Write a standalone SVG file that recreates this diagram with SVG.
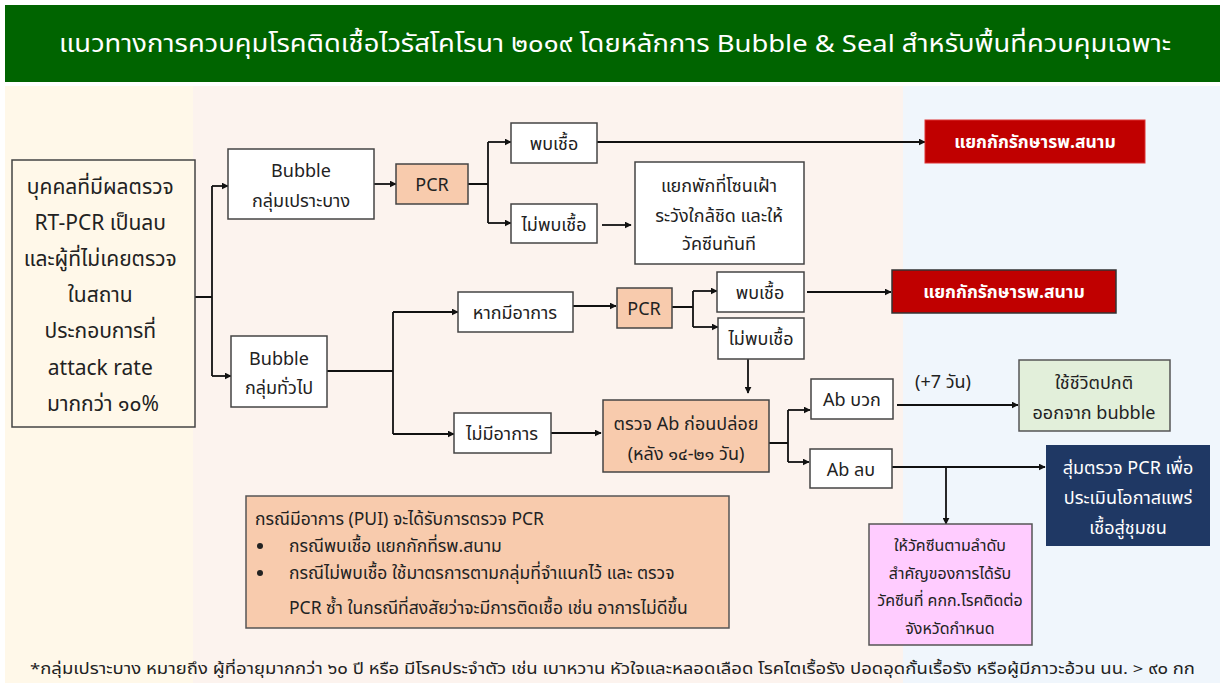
<svg xmlns="http://www.w3.org/2000/svg" width="1220" height="683" viewBox="0 0 1220 683">
<defs>
<marker id="ah" viewBox="0 0 10 10" refX="9" refY="5" markerWidth="7" markerHeight="7" markerUnits="userSpaceOnUse" orient="auto"><path d="M0,0 L10,5 L0,10 z" fill="#111"/></marker>
<style>
text{font-family:"Noto Sans Thai","Noto Sans","DejaVu Sans",sans-serif;fill:#222;text-anchor:middle}
.b{fill:#fff;stroke:#444;stroke-width:1.5}
.p{fill:#F8CBAD;stroke:#444;stroke-width:1.5}
.t{font-size:18px}
.w{fill:#fff;font-weight:bold;font-size:17.5px}
.c{fill:none;stroke:#111;stroke-width:1.8}
</style>
</defs>
<rect x="0" y="0" width="1220" height="683" fill="#fff"/>
<rect x="5" y="86" width="188" height="597" fill="#FFF8E9"/>
<rect x="193" y="86" width="710" height="597" fill="#FCF3EE"/>
<rect x="903" y="86" width="317" height="597" fill="#F0F6FC"/>
<g id="title">
<rect x="5" y="5" width="1215" height="77" fill="#006400"/>
<text x="615" y="52" style="fill:#fff;font-size:24px" textLength="1112" lengthAdjust="spacingAndGlyphs">แนวทางการควบคุมโรคติดเชื้อไวรัสโคโรนา ๒๐๑๙ โดยหลักการ Bubble &amp; Seal สำหรับพื้นที่ควบคุมเฉพาะ</text>
</g>
<g id="connectors">
<path class="c" d="M195,297 H212 M212,186 V376"/>
<path class="c" marker-end="url(#ah)" d="M212,186 H228"/>
<path class="c" marker-end="url(#ah)" d="M212,376 H231"/>
<path class="c" marker-end="url(#ah)" d="M374,184 H396"/>
<path class="c" d="M468,184 H488 M488,142 V223"/>
<path class="c" marker-end="url(#ah)" d="M488,142 H511"/>
<path class="c" marker-end="url(#ah)" d="M488,223 H511"/>
<path class="c" marker-end="url(#ah)" d="M597,142 H925"/>
<path class="c" marker-end="url(#ah)" d="M602,225 H631"/>
<path class="c" d="M327,371 H393 M393,312 V434"/>
<path class="c" marker-end="url(#ah)" d="M393,312 H458"/>
<path class="c" marker-end="url(#ah)" d="M393,434 H454"/>
<path class="c" marker-end="url(#ah)" d="M573,306 H616"/>
<path class="c" d="M672,307 H693 M693,291 V327"/>
<path class="c" marker-end="url(#ah)" d="M693,291 H717"/>
<path class="c" marker-end="url(#ah)" d="M693,327 H718"/>
<path class="c" marker-end="url(#ah)" d="M807,292 H891"/>
<path class="c" marker-end="url(#ah)" d="M748,359 V393"/>
<path class="c" marker-end="url(#ah)" d="M551,433 H601"/>
<path class="c" d="M769,443 H788 M788,410 V462"/>
<path class="c" marker-end="url(#ah)" d="M788,410 H810"/>
<path class="c" marker-end="url(#ah)" d="M788,462 H809"/>
<path class="c" marker-end="url(#ah)" d="M897,405 H1018"/>
<path class="c" marker-end="url(#ah)" d="M892,467 H1045"/>
<path class="c" marker-end="url(#ah)" d="M946,467 V524"/>
</g>
<g id="n_start">
<rect x="12" y="160" width="183" height="267" fill="#FFF8E9" stroke="#444" stroke-width="1.5"/>
<text style="font-size:21px">
<tspan x="103" y="194">บุคคลที่มีผลตรวจ</tspan>
<tspan x="103" y="230">RT-PCR เป็นลบ</tspan>
<tspan x="103" y="266">และผู้ที่ไม่เคยตรวจ</tspan>
<tspan x="103" y="302">ในสถาน</tspan>
<tspan x="103" y="338">ประกอบการที่</tspan>
<tspan x="103" y="375">attack rate</tspan>
<tspan x="103" y="411">มากกว่า ๑๐%</tspan>
</text>
</g>
<g id="n_bubble1">
<rect class="b" x="228" y="149" width="146" height="70"/>
<text class="t"><tspan x="301" y="177">Bubble</tspan><tspan x="301" y="207">กลุ่มเปราะบาง</tspan></text>
</g>
<g id="n_bubble2">
<rect class="b" x="231" y="336" width="96" height="71"/>
<text class="t"><tspan x="279" y="365">Bubble</tspan><tspan x="279" y="394">กลุ่มทั่วไป</tspan></text>
</g>
<g id="n_pcr1">
<rect class="p" x="396" y="164" width="72" height="40"/>
<text class="t" x="432" y="191">PCR</text>
</g>
<g id="n_found1">
<rect class="b" x="511" y="123" width="86" height="40"/>
<text class="t" x="554" y="150">พบเชื้อ</text>
</g>
<g id="n_notfound1">
<rect class="b" x="511" y="204" width="86" height="39"/>
<text class="t" x="554" y="231">ไม่พบเชื้อ</text>
</g>
<g id="n_quarantine">
<rect class="b" x="635" y="162" width="169" height="102"/>
<text class="t"><tspan x="719" y="192">แยกพักที่โซนเฝ้า</tspan><tspan x="719" y="222">ระวังใกล้ชิด และให้</tspan><tspan x="719" y="250">วัคซีนทันที</tspan></text>
</g>
<g id="n_hosp1">
<rect x="925" y="120" width="220" height="43" fill="#C00000" stroke="#d33" stroke-width="1"/>
<text class="w" x="1035" y="148">แยกกักรักษารพ.สนาม</text>
</g>
<g id="n_symp">
<rect class="b" x="458" y="292" width="115" height="40"/>
<text class="t" x="515" y="319">หากมีอาการ</text>
</g>
<g id="n_nosymp">
<rect class="b" x="454" y="413" width="97" height="40"/>
<text class="t" x="502" y="440">ไม่มีอาการ</text>
</g>
<g id="n_pcr2">
<rect class="p" x="617" y="288" width="55" height="40"/>
<text class="t" x="644" y="315">PCR</text>
</g>
<g id="n_found2">
<rect class="b" x="717" y="272" width="87" height="40"/>
<text class="t" x="760" y="299">พบเชื้อ</text>
</g>
<g id="n_notfound2">
<rect class="b" x="718" y="318" width="86" height="41"/>
<text class="t" x="761" y="345">ไม่พบเชื้อ</text>
</g>
<g id="n_hosp2">
<rect x="892" y="270" width="224" height="43" fill="#C00000" stroke="#333" stroke-width="1.5"/>
<text class="w" x="1004" y="298">แยกกักรักษารพ.สนาม</text>
</g>
<g id="n_abtest">
<rect class="p" x="603" y="400" width="166" height="72"/>
<text class="t"><tspan x="686" y="430">ตรวจ Ab ก่อนปล่อย</tspan><tspan x="686" y="460">(หลัง ๑๔-๒๑ วัน)</tspan></text>
</g>
<g id="n_abpos">
<rect class="b" x="811" y="379" width="82" height="40"/>
<text class="t" x="852" y="406">Ab บวก</text>
</g>
<g id="n_abneg">
<rect class="b" x="810" y="449" width="82" height="39"/>
<text class="t" x="851" y="476">Ab ลบ</text>
</g>
<text class="t" x="943" y="388">(+7 วัน)</text>
<g id="n_normal">
<rect x="1019" y="360" width="151" height="71" fill="#E2EFDA" stroke="#555" stroke-width="1.5"/>
<text class="t"><tspan x="1094" y="389">ใช้ชีวิตปกติ</tspan><tspan x="1094" y="419">ออกจาก bubble</tspan></text>
</g>
<g id="n_random">
<rect x="1046" y="445" width="164" height="101" fill="#1F3864"/>
<text class="t" style="fill:#fff"><tspan x="1128" y="474">สุ่มตรวจ PCR เพื่อ</tspan><tspan x="1128" y="504">ประเมินโอกาสแพร่</tspan><tspan x="1128" y="534">เชื้อสู่ชุมชน</tspan></text>
</g>
<g id="n_vaccine">
<rect x="869" y="524" width="163" height="121" fill="#FFCCFF" stroke="#555" stroke-width="1.5"/>
<text style="font-size:16px"><tspan x="950" y="551">ให้วัคซีนตามลำดับ</tspan><tspan x="950" y="579">สำคัญของการได้รับ</tspan><tspan x="950" y="606">วัคซีนที่ คกก.โรคติดต่อ</tspan><tspan x="950" y="634">จังหวัดกำหนด</tspan></text>
</g>
<g id="n_note">
<rect x="246" y="496" width="483" height="132" fill="#F8CBAD" stroke="#555" stroke-width="1.5"/>
<text style="font-size:17.5px;text-anchor:start">
<tspan x="255" y="525">กรณีมีอาการ (PUI) จะได้รับการตรวจ PCR</tspan>
<tspan x="289" y="552">กรณีพบเชื้อ แยกกักที่รพ.สนาม</tspan>
<tspan x="289" y="579">กรณีไม่พบเชื้อ ใช้มาตรการตามกลุ่มที่จำแนกไว้ และ ตรวจ</tspan>
<tspan x="289" y="614">PCR ซ้ำ ในกรณีที่สงสัยว่าจะมีการติดเชื้อ เช่น อาการไม่ดีขึ้น</tspan>
</text>
<circle cx="260" cy="546" r="3" fill="#222"/>
<circle cx="260" cy="573" r="3" fill="#222"/>
</g>
<text x="30" y="674" style="font-size:15px;text-anchor:start" textLength="1165" lengthAdjust="spacingAndGlyphs">*กลุ่มเปราะบาง หมายถึง ผู้ที่อายุมากกว่า ๖๐ ปี หรือ มีโรคประจำตัว เช่น เบาหวาน หัวใจและหลอดเลือด โรคไตเรื้อรัง ปอดอุดกั้นเรื้อรัง หรือผู้มีภาวะอ้วน นน. &gt; ๙๐ กก</text>
</svg>
